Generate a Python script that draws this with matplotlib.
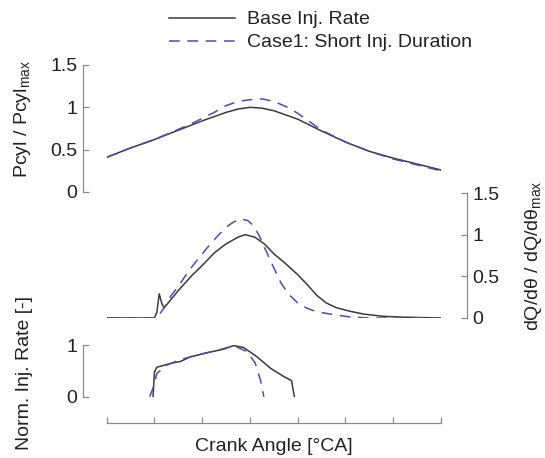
import matplotlib
import matplotlib.pyplot as plt

matplotlib.use("Agg")

plt.rcParams["font.family"] = ["Liberation Sans", "DejaVu Sans"]

# Crank angle [deg CA] and normalised cylinder pressure
crank_p = [-10, -5, 0, 5, 7.5, 10, 12.5, 15, 17.5, 20, 22.5, 25, 27.5, 30,
           32.5, 35, 40, 45, 50, 55, 60]
pcyl_base = [0.41, 0.52, 0.62, 0.73, 0.785, 0.84, 0.89, 0.94, 0.98, 1.0, 0.99,
             0.96, 0.91, 0.86, 0.79, 0.72, 0.59, 0.48, 0.40, 0.33, 0.26]
pcyl_case1 = [0.41, 0.52, 0.62, 0.74, 0.80, 0.87, 0.94, 1.02, 1.07, 1.09, 1.10,
              1.07, 1.01, 0.93, 0.83, 0.73, 0.59, 0.48, 0.39, 0.32, 0.25]

# Normalised heat release rate
crank_hr_base = [-10, 0, 0.5, 1.0, 1.5, 2.0, 5, 8, 10, 12.5, 15, 17.5, 19, 21,
                 23, 25, 27.5, 30, 32, 34, 36, 38, 41, 44, 48, 52, 60]
hr_base = [0, 0, 0.07, 0.29, 0.18, 0.12, 0.33, 0.52, 0.63, 0.78, 0.89, 0.97,
           1.0, 0.97, 0.89, 0.77, 0.65, 0.52, 0.40, 0.27, 0.18, 0.125, 0.08,
           0.045, 0.02, 0.01, 0.0]
crank_hr_case1 = [-10, 0, 1, 2, 3.5, 5, 7, 9, 11, 13, 15, 16.5, 18, 19.5, 20.7,
                  22, 23, 25, 26.5, 28, 30, 32, 34, 37, 41, 45, 60]
hr_case1 = [0, 0, 0.04, 0.12, 0.27, 0.38, 0.55, 0.70, 0.84, 0.97, 1.09, 1.15,
            1.19, 1.17, 1.11, 0.98, 0.85, 0.60, 0.42, 0.29, 0.18, 0.115, 0.075,
            0.045, 0.012, 0.0, 0.0]

# Normalised injection rate
crank_inj_base = [-0.3, 0.0, 0.5, 3.6, 5.4, 7.5, 11, 14.5, 16.6, 18.7, 21.5,
                  24.3, 27.1, 28.7, 29.3]
inj_base = [0, 0.48, 0.57, 0.65, 0.68, 0.77, 0.85, 0.92, 0.99, 0.95, 0.77,
            0.55, 0.39, 0.31, 0]
crank_inj_case1 = [-1.0, -0.2, 0.5, 2.6, 5.4, 9.6, 14.5, 16.6, 19.4, 21.1,
                   22.2, 22.9]
inj_case1 = [0, 0.19, 0.45, 0.61, 0.72, 0.82, 0.93, 0.99, 0.87, 0.65, 0.32, 0]

crank_ticks = [-10, 0, 10, 20, 30, 40, 50, 60]

BASE_COLOR = "#3a3a3a"
CASE_COLOR = "#4c4cb8"
SPINE_COLOR = "#8a8a8a"
TEXT_COLOR = "#222222"
FS = 14
LW = 1.1
DASHES = (7, 5)

fig = plt.figure(figsize=(5.45, 4.58), dpi=100)
left, width = 0.1958, 0.6134
ax_top = fig.add_axes([left, 0.5808, width, 0.2773])
ax_mid = fig.add_axes([left, 0.3057, width, 0.2729])
ax_inj = fig.add_axes([left, 0.1338, width, 0.1129])

for ax in (ax_top, ax_mid, ax_inj):
    ax.set_facecolor("none")
    for s in ax.spines.values():
        s.set_visible(False)
        s.set_color(SPINE_COLOR)
        s.set_linewidth(0.9)
    ax.set_xlim(-10, 60)
    ax.tick_params(direction="in", length=4, width=0.9, color=SPINE_COLOR,
                   labelsize=FS, labelcolor=TEXT_COLOR, pad=4)

# cylinder pressure
l1, = ax_top.plot(crank_p, pcyl_base, color=BASE_COLOR, lw=LW,
                  label="Base Inj. Rate")
l2, = ax_top.plot(crank_p, pcyl_case1, color=CASE_COLOR, lw=LW, ls="--",
                  dashes=DASHES, label="Case1: Short Inj. Duration")
ax_top.set_ylim(0, 1.5)
ax_top.set_yticks([0, 0.5, 1, 1.5])
ax_top.set_yticklabels(["0", "0.5", "1", "1.5"])
ax_top.spines["left"].set_visible(True)
ax_top.spines["left"].set_position(("outward", 17.3))
ax_top.set_xticks([])
ax_top.set_ylabel("Pcyl / Pcyl$_{\\mathregular{max}}$", fontsize=FS,
                  color=TEXT_COLOR)
ax_top.yaxis.set_label_coords(-0.219, 0.57)

# heat release rate
ax_mid.plot(crank_hr_base, hr_base, color=BASE_COLOR, lw=LW)
ax_mid.plot(crank_hr_case1, hr_case1, color=CASE_COLOR, lw=LW, ls="--",
            dashes=DASHES)
ax_mid.set_ylim(0, 1.5)
ax_mid.set_yticks([0, 0.5, 1, 1.5])
ax_mid.set_yticklabels(["0", "0.5", "1", "1.5"])
ax_mid.yaxis.tick_right()
ax_mid.yaxis.set_label_position("right")
ax_mid.spines["right"].set_visible(True)
ax_mid.spines["right"].set_position(("outward", 18.5))
ax_mid.set_xticks([])
ax_mid.set_ylabel("dQ/d\u03b8 / dQ/d\u03b8$_{\\mathregular{max}}$",
                  fontsize=FS, color=TEXT_COLOR)
ax_mid.yaxis.set_label_coords(1.245, 0.5)

# injection rate
ax_inj.plot(crank_inj_base, inj_base, color=BASE_COLOR, lw=LW)
ax_inj.plot(crank_inj_case1, inj_case1, color=CASE_COLOR, lw=LW, ls="--",
            dashes=DASHES)
ax_inj.set_ylim(0, 1)
ax_inj.set_yticks([0, 1])
ax_inj.set_yticklabels(["0", "1"])
ax_inj.spines["left"].set_visible(True)
ax_inj.spines["left"].set_position(("outward", 17.3))
ax_inj.spines["bottom"].set_visible(True)
ax_inj.spines["bottom"].set_position(("outward", 19))
ax_inj.set_xticks(crank_ticks)
ax_inj.tick_params(axis="x", labelbottom=False)
ax_inj.set_ylabel("Norm. Inj. Rate [-]", fontsize=FS, color=TEXT_COLOR)
ax_inj.yaxis.set_label_coords(-0.219, 0.45)
ax_inj.set_xlabel("Crank Angle [\u00b0CA]", fontsize=FS, color=TEXT_COLOR,
                  labelpad=11)

fig.legend(handles=[l1, l2], loc="upper left", bbox_to_anchor=(0.290, 1.0),
           frameon=False, fontsize=FS, handlelength=3.4, handletextpad=0.65,
           labelspacing=0.28, borderaxespad=0.15, labelcolor=TEXT_COLOR)

fig.savefig("out.png", dpi=100)
